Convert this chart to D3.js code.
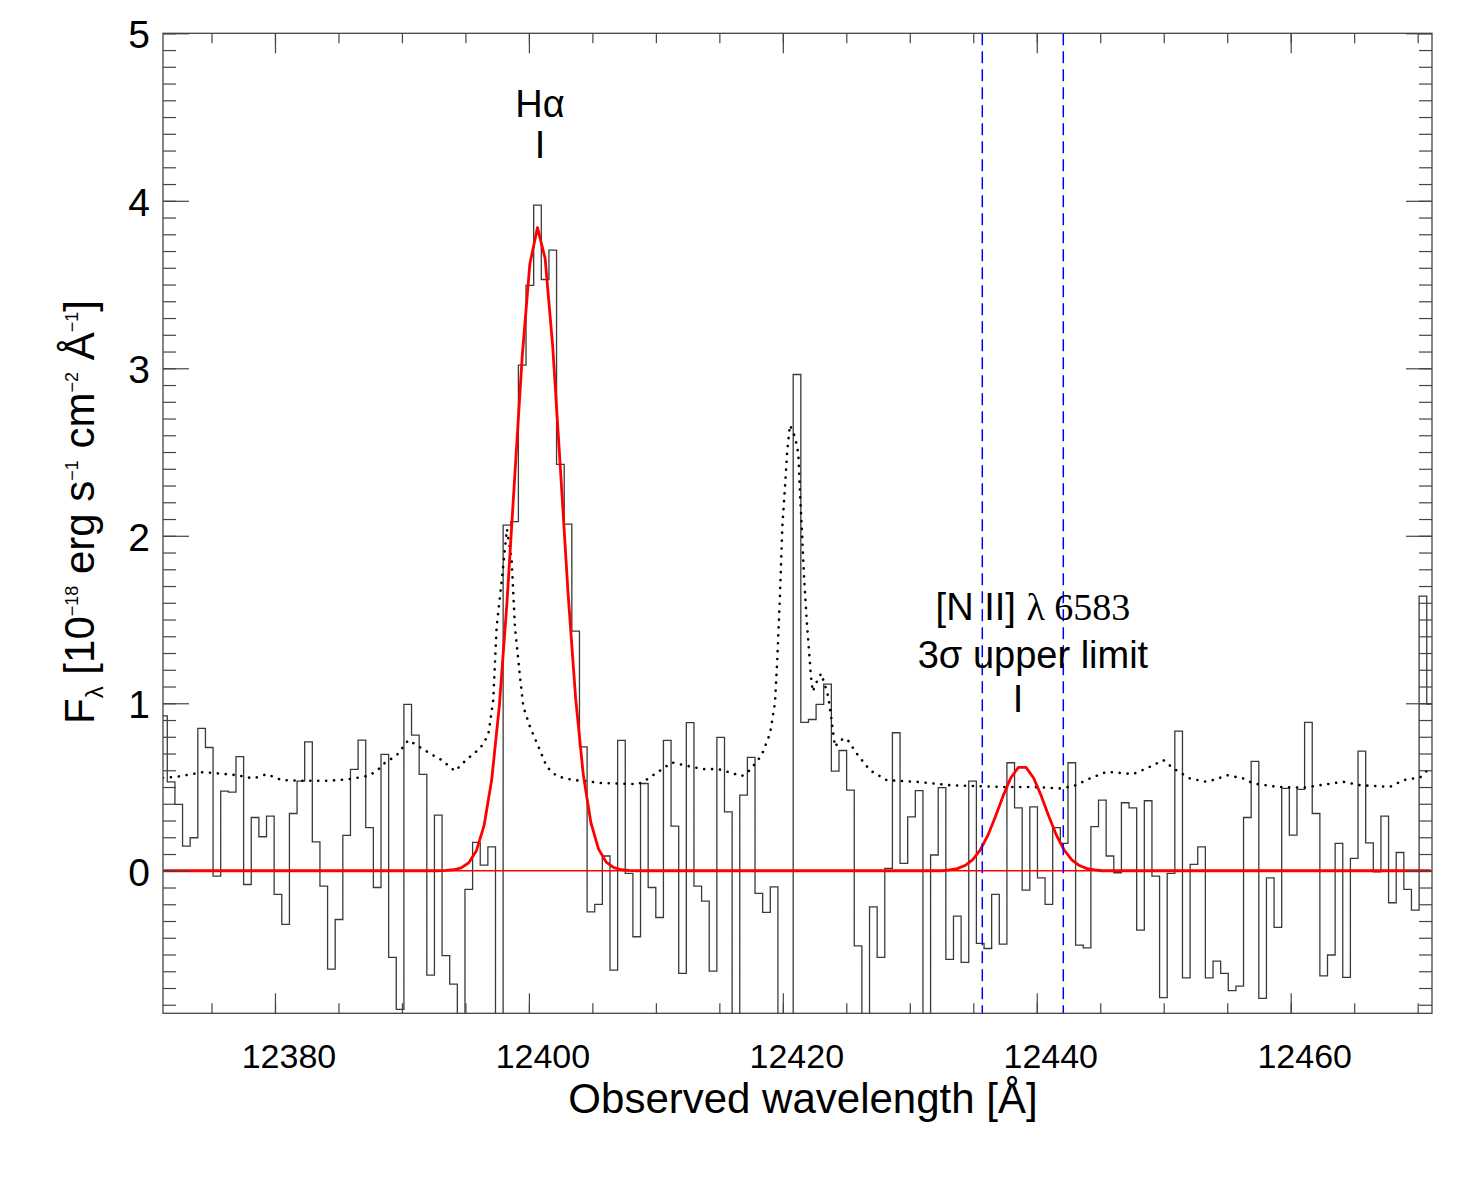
<!DOCTYPE html>
<html>
<head>
<meta charset="utf-8">
<script src="https://cdn.jsdelivr.net/npm/d3@7"></script>
<style>
  body { margin: 0; background: #fff; }
  text { font-family: "Liberation Sans", Arial, sans-serif; fill: #000; }
</style>
</head>
<body>
<svg id="chart" width="1475" height="1180"></svg>
<script>
// SPECTRUM GRID -- LEFT EDGE OF FIRST BIN & BIN WIDTH [A]
const binStart = 12370.916;
const binWidth = 0.6012;

// OBSERVED FLUX PER BIN [1e-18 erg/s/cm2/A] (values below -0.85 are off the plot)
const flux = [
  0.925, 0.531, 0.396, 0.147, 0.197, 0.850, 0.736, -0.032, 0.476, 0.469,
  0.681, -0.082, 0.318, 0.203, 0.326, -0.141, -0.320, 0.342, 0.535, 0.770,
  0.173, -0.092, -0.587, -0.291, 0.211, 0.605, 0.780, 0.257, -0.100, 0.695,
  -0.517, -0.828, 0.993, 0.810, 0.575, -0.623, 0.332, -0.507, -0.677, -1.0,
  -0.111, 0.169, 0.034, 0.143, -1.0, 2.064, 2.084, 3.019, 3.495, 3.974,
  3.530, 3.705, 2.426, 2.070, 1.431, 0.740, -0.245, -0.201, 0.088, -0.593,
  0.778, -0.016, -0.394, 0.521, -0.100, -0.279, 0.778, 0.267, -0.613, 0.884,
  -0.092, -0.181, -0.599, 0.796, 0.352, -1.0, 0.452, 0.677, -0.135, -0.249,
  -0.096, -1.0, -1.0, 2.963, 0.886, 0.903, 0.993, 1.114, 0.595, 0.718,
  0.482, -0.448, -1.0, -0.215, -0.517, 0.014, 0.824, 0.044, 0.322, 0.478,
  -1.0, 0.094, 0.496, -0.529, -0.271, -0.547, 0.535, -0.434, -0.464, -0.141,
  -0.438, 0.645, 0.376, -0.115, 0.382, -0.042, -0.201, 0.257, 0.163, 0.645,
  -0.444, -0.460, 0.263, 0.422, 0.088, -0.012, 0.406, 0.376, -0.354, 0.418,
  -0.032, -0.758, -0.016, 0.834, -0.639, 0.038, 0.143, -0.639, -0.539, -0.613,
  -0.716, -0.689, 0.318, 0.653, -0.762, -0.042, -0.338, 0.492, 0.213, 0.486,
  0.886, 0.342, -0.627, -0.503, 0.163, -0.637, 0.074, 0.714, 0.167, -0.006,
  0.326, -0.191, 0.109, -0.111, -0.235, 1.640, 0.995
];

// GAUSSIAN FIT AT BIN CENTRES -- INDEX OF FIRST BIN & VALUES
const haFitFirst = 37;
const haFit = [
  0.002, 0.006, 0.017, 0.048, 0.120, 0.269, 0.543, 0.983, 1.600, 2.338,
  3.071, 3.623, 3.840, 3.656, 3.128, 2.404, 1.661, 1.029, 0.573, 0.287,
  0.129, 0.052, 0.019, 0.006, 0.002
];
const niiFitFirst = 103;
const niiFit = [
  0.005, 0.013, 0.031, 0.065, 0.124, 0.211, 0.324, 0.447, 0.554, 0.617,
  0.617, 0.554, 0.447, 0.324, 0.211, 0.124, 0.065, 0.031, 0.013, 0.005
];

// NOISE / SKY SPECTRUM (DOTTED)
const noiseLam = [
  12371.18, 12372.26, 12374.35, 12376.98, 12378.29, 12379.35, 12380.53, 12382.21, 12384.07, 12385.65,
  12386.95, 12387.48, 12388.14, 12388.53, 12389.59, 12390.50, 12391.29, 12392.21, 12393.13, 12394.18,
  12395.10, 12396.15, 12396.80, 12397.19, 12397.46, 12397.86, 12398.27, 12398.64, 12398.90, 12399.30,
  12399.56, 12400.08, 12400.87, 12401.40, 12402.19, 12403.50, 12404.68, 12405.34, 12408.62, 12409.28,
  12410.58, 12411.25, 12412.43, 12413.74, 12414.92, 12416.10, 12416.76, 12417.41, 12418.33, 12418.99,
  12419.38, 12419.56, 12419.78, 12419.96, 12420.17, 12420.35, 12420.56, 12420.96, 12421.22, 12421.35,
  12421.49, 12421.67, 12421.88, 12422.06, 12422.22, 12422.36, 12422.54, 12423.01, 12423.32, 12423.58,
  12423.77, 12424.11, 12424.50, 12425.03, 12425.82, 12426.86, 12428.18, 12430.54, 12433.17, 12435.27,
  12437.36, 12439.73, 12441.83, 12442.88, 12444.19, 12445.51, 12447.60, 12448.92, 12449.97, 12450.75,
  12452.07, 12453.38, 12454.30, 12454.96, 12456.27, 12457.06, 12458.90, 12461.00, 12462.84, 12464.15,
  12465.46, 12467.82, 12468.87, 12470.19, 12471.11
];
const noiseVal = [
  0.555, 0.561, 0.589, 0.571, 0.551, 0.577, 0.541, 0.537, 0.537, 0.545,
  0.561, 0.571, 0.605, 0.637, 0.690, 0.780, 0.744, 0.700, 0.661, 0.595,
  0.665, 0.730, 0.810, 1.019, 1.457, 1.735, 2.040, 1.855, 1.457, 1.158,
  0.979, 0.860, 0.720, 0.621, 0.565, 0.541, 0.535, 0.525, 0.517, 0.545,
  0.611, 0.647, 0.627, 0.607, 0.607, 0.581, 0.565, 0.601, 0.690, 0.820,
  1.000, 1.258, 1.656, 2.054, 2.293, 2.511, 2.661, 2.591, 2.492, 2.253,
  2.054, 1.755, 1.496, 1.317, 1.158, 1.069, 1.108, 1.178, 1.108, 1.039,
  0.939, 0.740, 0.780, 0.790, 0.700, 0.600, 0.541, 0.531, 0.511, 0.505,
  0.500, 0.500, 0.492, 0.505, 0.551, 0.591, 0.577, 0.621, 0.661, 0.611,
  0.551, 0.531, 0.551, 0.571, 0.551, 0.521, 0.501, 0.496, 0.517, 0.531,
  0.511, 0.501, 0.541, 0.557, 0.625
];

// 3-SIGMA WINDOW FOR [N II]
const limitLam = [12435.71, 12442.09];

// TICK VALUES
const xMajor = [12380, 12400, 12420, 12440, 12460];
const yMajor = [0, 1, 2, 3, 4, 5];

// CANVAS SETTINGS
const svg = d3.select('#chart');
const box = { left: 163, right: 1432, top: 33.3, bottom: 1013.3 };

// SCALES
const x = d3.scaleLinear().domain([12371.18, 12471.13]).range([box.left, box.right]);
const y = d3.scaleLinear().domain([-0.851, 5]).range([box.bottom, box.top]);

// CLIP TO PLOT BOX
svg.append('clipPath').attr('id', 'plot')
  .append('rect')
  .attr('x', box.left).attr('y', box.top)
  .attr('width', box.right - box.left).attr('height', box.bottom - box.top);

const plot = svg.append('g').attr('clip-path', 'url(#plot)');

// HISTOGRAM STEPS
const steps = [];
flux.forEach((v, i) => {
  steps.push([binStart + i * binWidth, v]);
  steps.push([binStart + (i + 1) * binWidth, v]);
});
const line = d3.line().x(d => x(d[0])).y(d => y(d[1]));

plot.append('path')
  .attr('d', line(steps))
  .attr('fill', 'none')
  .attr('stroke', '#3a3a3a')
  .attr('stroke-width', 1.3);

// DOTTED NOISE SPECTRUM
plot.append('path')
  .attr('d', line(noiseLam.map((l, i) => [l, noiseVal[i]])))
  .attr('fill', 'none')
  .attr('stroke', '#000')
  .attr('stroke-width', 2.6)
  .attr('stroke-linecap', 'round')
  .attr('stroke-dasharray', '0.1,7.8');

// ZERO LINE
plot.append('path')
  .attr('d', line(x.domain().map(l => [l, 0])))
  .attr('stroke', '#ff0000')
  .attr('stroke-width', 1.5);

// FIT MODEL THROUGH BIN CENTRES
const fitPts = flux.map((v, i) => {
  let m = 0;
  if (i >= haFitFirst && i < haFitFirst + haFit.length) m = haFit[i - haFitFirst];
  if (i >= niiFitFirst && i < niiFitFirst + niiFit.length) m = niiFit[i - niiFitFirst];
  return [binStart + (i + 0.5) * binWidth, m];
});
plot.append('path')
  .attr('d', line(fitPts))
  .attr('fill', 'none')
  .attr('stroke', '#ff0000')
  .attr('stroke-width', 2.8)
  .attr('stroke-linejoin', 'round');

// UPPER LIMIT WINDOW
plot.selectAll('line.limit')
  .data(limitLam)
  .enter().append('line')
    .attr('class', 'limit')
    .attr('x1', d => x(d)).attr('x2', d => x(d))
    .attr('y1', box.top).attr('y2', box.bottom)
    .attr('stroke', '#0000ff')
    .attr('stroke-width', 1.5)
    .attr('stroke-dasharray', '12,6');

// AXES -- TICKS POINT INWARDS ON ALL FOUR SIDES
const axisColor = '#444';
const xMinor = d3.range(12375, 12471, 5);
const yMinor = d3.range(-8, 51).map(d => d / 10);

function ticks(axis, values, size) {
  return axis.tickValues(values).tickSize(size).tickFormat('').tickSizeOuter(0);
}

const axes = svg.append('g');
axes.append('g').attr('transform', `translate(0,${box.bottom})`).call(ticks(d3.axisBottom(x), xMinor, -10));
axes.append('g').attr('transform', `translate(0,${box.bottom})`).call(ticks(d3.axisBottom(x), xMajor, -20));
axes.append('g').attr('transform', `translate(0,${box.top})`).call(ticks(d3.axisTop(x), xMinor, -10));
axes.append('g').attr('transform', `translate(0,${box.top})`).call(ticks(d3.axisTop(x), xMajor, -20));
axes.append('g').attr('transform', `translate(${box.left},0)`).call(ticks(d3.axisLeft(y), yMinor, -13));
axes.append('g').attr('transform', `translate(${box.left},0)`).call(ticks(d3.axisLeft(y), yMajor, -26));
axes.append('g').attr('transform', `translate(${box.right},0)`).call(ticks(d3.axisRight(y), yMinor, -13));
axes.append('g').attr('transform', `translate(${box.right},0)`).call(ticks(d3.axisRight(y), yMajor, -26));
axes.selectAll('.domain').remove();
axes.selectAll('line').attr('stroke', axisColor).attr('stroke-width', 1.2);

// FRAME
svg.append('rect')
  .attr('x', box.left).attr('y', box.top)
  .attr('width', box.right - box.left).attr('height', box.bottom - box.top)
  .attr('fill', 'none')
  .attr('stroke', axisColor)
  .attr('stroke-width', 1.3);

// TICK LABELS
svg.selectAll('text.xt')
  .data(xMajor)
  .enter().append('text')
    .attr('class', 'xt')
    .attr('x', d => x(d) + 14)
    .attr('y', 1068)
    .attr('text-anchor', 'middle')
    .style('font-size', '34px')
    .text(d => d);

svg.selectAll('text.yt')
  .data(yMajor)
  .enter().append('text')
    .attr('class', 'yt')
    .attr('x', 150)
    .attr('y', d => y(d) + 15)
    .attr('text-anchor', 'end')
    .style('font-size', '39px')
    .text(d => d);

// AXIS TITLES
svg.append('text')
  .attr('x', 803).attr('y', 1113)
  .attr('text-anchor', 'middle')
  .style('font-size', '42px')
  .text('Observed wavelength [Å]');

const ylab = svg.append('text')
  .attr('transform', 'translate(94,512) rotate(-90)')
  .attr('text-anchor', 'middle')
  .style('font-size', '42px');
ylab.append('tspan').text('F');
ylab.append('tspan').attr('dy', 9).style('font-size', '24px').text('λ');
ylab.append('tspan').attr('dy', -9).text(' [10');
ylab.append('tspan').attr('dy', -16).style('font-size', '18px').text('−18');
ylab.append('tspan').attr('dy', 16).text(' erg s');
ylab.append('tspan').attr('dy', -16).style('font-size', '18px').text('−1');
ylab.append('tspan').attr('dy', 16).text(' cm');
ylab.append('tspan').attr('dy', -16).style('font-size', '18px').text('−2');
ylab.append('tspan').attr('dy', 16).text(' Å');
ylab.append('tspan').attr('dy', -16).style('font-size', '18px').text('−1');
ylab.append('tspan').attr('dy', 16).text(']');

// LINE ANNOTATIONS
const note = (lam, val, str) => svg.append('text')
  .attr('x', x(lam)).attr('y', y(val))
  .attr('text-anchor', 'middle')
  .style('font-size', '38px')
  .text(str);

note(12400.87, 4.50, 'Hα');
note(12400.87, 4.254, 'I');

const nii = svg.append('text')
  .attr('x', x(12439.70)).attr('y', y(1.497))
  .attr('text-anchor', 'middle')
  .style('font-size', '38px');
nii.append('tspan').text('[N II] ');
nii.append('tspan').style('font-family', '"Liberation Serif", "Times New Roman", serif').text('λ 6583');

note(12439.70, 1.21, '3σ upper limit');
note(12438.52, 0.95, 'I');
</script>
</body>
</html>
